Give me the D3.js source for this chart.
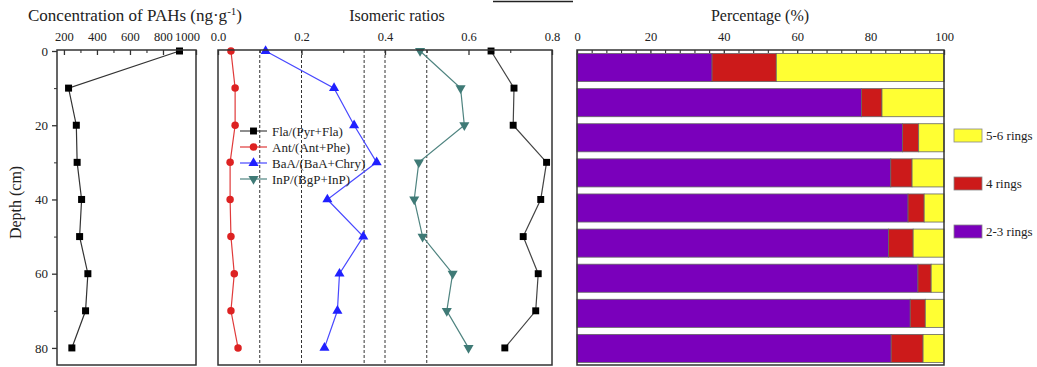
<!DOCTYPE html>
<html>
<head>
<meta charset="utf-8">
<script src="https://cdn.jsdelivr.net/npm/d3@7"></script>
<style>
  body { margin: 0; background: #fff; }
  svg { font-family: "Liberation Serif", "Times New Roman", serif; }
</style>
</head>
<body>
<svg width="1037" height="367"></svg>
<script>
// глубины отбора проб (см)
const depths = [0, 10, 20, 30, 40, 50, 60, 70, 80];
// суммарная концентрация ПАУ (ng/g)
const concentration = [900, 228, 275, 280, 307, 295, 345, 331, 248];
// изомерные отношения
const flaRatio = [0.654, 0.709, 0.707, 0.787, 0.773, 0.731, 0.767, 0.761, 0.687];
const antRatio = [0.031, 0.041, 0.041, 0.029, 0.029, 0.031, 0.039, 0.031, 0.048];
const baaRatio = [0.114, 0.278, 0.326, 0.380, 0.262, 0.348, 0.291, 0.286, 0.255];
const inpRatio = [0.484, 0.581, 0.590, 0.481, 0.470, 0.490, 0.562, 0.548, 0.600];
const ratioNames = ["Fla/(Pyr+Fla)", "Ant/(Ant+Phe)", "BaA/(BaA+Chry)", "InP/(BgP+InP)"];
// доли колец (%)
const rings23 = [36.8, 77.5, 88.7, 85.5, 90.2, 84.9, 92.9, 90.8, 85.6];
const rings4 = [17.5, 5.6, 4.4, 5.8, 4.4, 6.7, 3.6, 4.1, 8.7];
const rings56 = [45.7, 16.9, 6.9, 8.7, 5.4, 8.4, 3.5, 5.1, 5.7];
const ringNames = ["5-6 rings", "4 rings", "2-3 rings"];
// подписи осей
const concTicks = [200, 400, 600, 800, 1000];
const concMinor = [300, 500, 700, 900];
const ratioTicks = [0, 0.2, 0.4, 0.6, 0.8];
const ratioMinor = [0.1, 0.3, 0.5, 0.7];
const thresholds = [0.1, 0.2, 0.35, 0.4, 0.5];
const pctTicks = [0, 20, 40, 60, 80, 100];
const pctMinor = [4, 8, 12, 16, 24, 28, 32, 36, 44, 48, 52, 56, 64, 68, 72, 76, 84, 88, 92, 96];
const depthTicks = [0, 20, 40, 60, 80];
const depthMinor = [10, 30, 50, 70];

const svg = d3.select("svg");
const yTop = 50, yBottom = 365;
const frameColor = "#333";

const y = d3.scaleLinear().domain([0, 84.6]).range([51, 365]);

function frame(x0, x1) {
    svg.append("rect")
        .attr("x", x0).attr("y", yTop)
        .attr("width", x1 - x0).attr("height", yBottom - yTop)
        .attr("fill", "none").attr("stroke", frameColor).attr("stroke-width", 1.5);
}

function topAxis(scale, ticks, minor, fmt) {
    const g = svg.append("g").attr("transform", `translate(0,${yTop})`)
        .call(d3.axisTop(scale).tickValues(ticks).tickSize(-5).tickPadding(9).tickFormat(fmt));
    g.select(".domain").remove();
    g.selectAll("text").attr("font-size", 12.5).attr("fill", "#222")
        .attr("font-family", "Liberation Serif");
    g.selectAll("line").attr("stroke", frameColor).attr("stroke-width", 1.3);
    const m = svg.append("g").attr("transform", `translate(0,${yTop})`)
        .call(d3.axisTop(scale).tickValues(minor).tickSize(-3).tickFormat(""));
    m.select(".domain").remove();
    m.selectAll("line").attr("stroke", frameColor).attr("stroke-width", 1.1);
    return g;
}

function title(x, text) {
    return svg.append("text").attr("x", x).attr("y", 21)
        .attr("text-anchor", "middle").attr("font-size", 16).attr("fill", "#222")
        .text(text);
}

// ---------- панель 1: концентрация ----------
const xConc = d3.scaleLinear().domain([158, 1000]).range([57, 196]);
const gc = topAxis(xConc, concTicks, concMinor, d3.format("d"));
gc.selectAll("text").filter(d => d === 1000).attr("text-anchor", "end").attr("x", 3.5);

const yAx = svg.append("g").attr("transform", "translate(57,0)")
    .call(d3.axisLeft(y).tickValues(depthTicks).tickSize(5).tickPadding(4));
yAx.select(".domain").remove();
yAx.selectAll("text").attr("font-size", 13).attr("fill", "#222").attr("font-family", "Liberation Serif");
yAx.selectAll("line").attr("stroke", frameColor).attr("stroke-width", 1.3);
const yMin = svg.append("g").attr("transform", "translate(57,0)")
    .call(d3.axisLeft(y).tickValues(depthMinor).tickSize(3).tickFormat(""));
yMin.select(".domain").remove();
yMin.selectAll("line").attr("stroke", frameColor);

svg.append("text")
    .attr("transform", `translate(21,${(y(0) + y(80)) / 2 + 3}) rotate(-90)`)
    .attr("text-anchor", "middle").attr("font-size", 16).attr("fill", "#222")
    .text("Depth (cm)");

const concData = depths.map((d, i) => ({depth: d, v: concentration[i]}));
svg.append("path").datum(concData)
    .attr("d", d3.line().x(d => xConc(d.v)).y(d => y(d.depth)))
    .attr("fill", "none").attr("stroke", "#333").attr("stroke-width", 1.2);
svg.selectAll(".conc").data(concData).join("rect")
    .attr("x", d => xConc(d.v) - 3.5).attr("y", d => y(d.depth) - 3.5)
    .attr("width", 7).attr("height", 7).attr("fill", "#000");
frame(57, 196);

const concTitle = svg.append("text").attr("x", 135).attr("y", 21)
    .attr("text-anchor", "middle").attr("font-size", 17).attr("fill", "#222");
concTitle.append("tspan").text("Concentration of PAHs (ng·g");
concTitle.append("tspan").attr("dy", -6).attr("font-size", 11).text("-1");
concTitle.append("tspan").attr("dy", 6).text(")");

// ---------- панель 2: изомерные отношения ----------
const xRatio = d3.scaleLinear().domain([0, 0.8]).range([218, 552]);
topAxis(xRatio, ratioTicks, ratioMinor, d3.format(".1f"));
title(397, "Isomeric ratios");

svg.selectAll(".thr").data(thresholds).join("line")
    .attr("x1", d => xRatio(d)).attr("x2", d => xRatio(d))
    .attr("y1", yTop).attr("y2", yBottom)
    .attr("stroke", "#333").attr("stroke-width", 1).attr("stroke-dasharray", "3,2");

const ratioSeries = [
    {name: ratioNames[0], values: flaRatio, color: "#000", line: "#444",
     symbol: d3.symbolSquare, size: 48, rot: 0},
    {name: ratioNames[1], values: antRatio, color: "#dd2222", line: "#e03a3a",
     symbol: d3.symbolCircle, size: 44, rot: 0},
    {name: ratioNames[2], values: baaRatio, color: "#2020ff", line: "#4848ff",
     symbol: d3.symbolTriangle, size: 44, rot: 0},
    {name: ratioNames[3], values: inpRatio, color: "#3f7a76", line: "#4f8480",
     symbol: d3.symbolTriangle, size: 44, rot: 180}
];

const lineRatio = d3.line().x(d => xRatio(d.v)).y(d => y(d.depth));
ratioSeries.forEach(s => {
    const data = depths.map((d, i) => ({depth: d, v: s.values[i]}));
    svg.append("path").datum(data).attr("d", lineRatio)
        .attr("fill", "none").attr("stroke", s.line).attr("stroke-width", 1.2);
    svg.append("g").selectAll("path").data(data).join("path")
        .attr("d", d3.symbol(s.symbol, s.size))
        .attr("transform", d => `translate(${xRatio(d.v)},${y(d.depth)}) rotate(${s.rot})`)
        .attr("fill", s.color);
});

// легенда
const leg = svg.append("g").attr("transform", "translate(240,131)");
ratioSeries.forEach((s, i) => {
    const g = leg.append("g").attr("transform", `translate(0,${i * 16})`);
    g.append("line").attr("x1", 0).attr("x2", 27).attr("stroke", s.line).attr("stroke-width", 1.2);
    g.append("path").attr("d", d3.symbol(s.symbol, s.size))
        .attr("transform", `translate(13.5,0) rotate(${s.rot})`).attr("fill", s.color);
    g.append("text").attr("x", 32).attr("y", 4.5).attr("font-size", 13).attr("fill", "#222")
        .text(s.name);
});
frame(218, 552);

// короткая линия над панелями
svg.append("line").attr("x1", 493).attr("x2", 573).attr("y1", 1.5).attr("y2", 1.5)
    .attr("stroke", "#222").attr("stroke-width", 1.5);

// ---------- панель 3: проценты ----------
const xPct = d3.scaleLinear().domain([0, 100]).range([577, 944]);
const yBand = d3.scaleBand().domain(depths).range([yTop, 366]).paddingInner(0.2).paddingOuter(0.1);
topAxis(xPct, pctTicks, pctMinor, d3.format("d"));
title(760, "Percentage (%)");

const ringColors = {"2-3 rings": "#7a00bb", "4 rings": "#cc1a1a", "5-6 rings": "#ffff33"};
const tableRows = depths.map((d, i) => ({
    depth: d, "2-3 rings": rings23[i], "4 rings": rings4[i], "5-6 rings": rings56[i]
}));
const stack = d3.stack().keys(["2-3 rings", "4 rings", "5-6 rings"])(tableRows);
svg.append("g").selectAll("g").data(stack).join("g")
    .attr("fill", s => ringColors[s.key])
    .selectAll("rect").data(s => s).join("rect")
    .attr("x", d => xPct(d[0])).attr("y", d => yBand(d.data.depth))
    .attr("width", d => xPct(d[1]) - xPct(d[0])).attr("height", yBand.bandwidth())
    .attr("stroke", "#666").attr("stroke-width", 0.8);
frame(577, 944);

const rleg = svg.append("g");
ringNames.forEach((n, i) => {
    const yy = 129 + i * 48;
    rleg.append("rect").attr("x", 954).attr("y", yy).attr("width", 28).attr("height", 13)
        .attr("fill", ringColors[n]).attr("stroke", "#888").attr("stroke-width", 0.8);
    rleg.append("text").attr("x", 986).attr("y", yy + 10.5).attr("font-size", 13)
        .attr("fill", "#222").text(n);
});
</script>
</body>
</html>
